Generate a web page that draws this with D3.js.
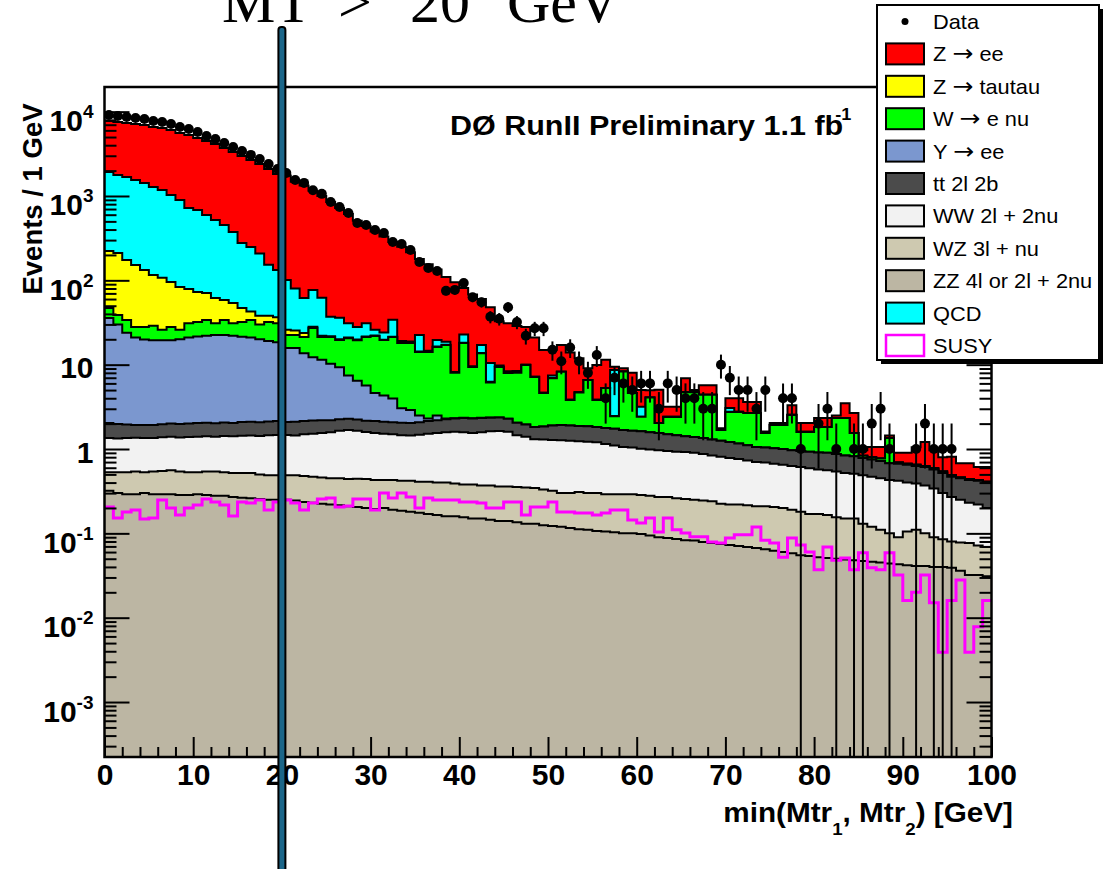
<!DOCTYPE html>
<html>
<head>
<meta charset="utf-8">
<script src="https://cdn.jsdelivr.net/npm/d3@7"></script>
<style>
  html, body { margin: 0; padding: 0; background: #fff; }
  svg { display: block; }
</style>
</head>
<body>
<svg id="chart" width="1110" height="869"></svg>
<script>
"use strict";

// 100 bins of 1 GeV, lower edges 0..99
const nBins = 100;

const zzVals = [0.32,0.30,0.29,0.29,0.30,0.29,0.29,0.29,0.285,0.285,
  0.29,0.285,0.28,0.28,0.27,0.265,0.26,0.255,0.25,0.25,
  0.25,0.245,0.235,0.23,0.225,0.22,0.215,0.21,0.205,0.20,
  0.195,0.20,0.19,0.185,0.18,0.175,0.17,0.165,0.16,0.16,
  0.155,0.15,0.15,0.145,0.14,0.14,0.135,0.13,0.13,0.125,
  0.122,0.12,0.116,0.112,0.11,0.107,0.105,0.103,0.10,0.10,
  0.098,0.094,0.09,0.088,0.086,0.083,0.082,0.079,0.077,0.075,
  0.073,0.071,0.069,0.067,0.065,0.062,0.06,0.058,0.055,0.054,
  0.052,0.051,0.05,0.049,0.048,0.047,0.046,0.045,0.044,0.043,
  0.042,0.041,0.041,0.04,0.04,0.039,0.036,0.032,0.032,0.031];

const wzVals = [0.21,0.23,0.24,0.25,0.23,0.25,0.26,0.27,0.255,0.245,
  0.24,0.255,0.26,0.25,0.25,0.255,0.26,0.245,0.24,0.24,
  0.24,0.245,0.245,0.24,0.235,0.23,0.235,0.23,0.24,0.24,
  0.235,0.23,0.24,0.235,0.24,0.235,0.24,0.235,0.24,0.23,
  0.225,0.23,0.22,0.225,0.22,0.22,0.22,0.22,0.215,0.205,
  0.198,0.18,0.184,0.198,0.19,0.193,0.185,0.187,0.19,0.19,
  0.187,0.186,0.18,0.182,0.174,0.172,0.168,0.166,0.163,0.15,
  0.147,0.149,0.146,0.143,0.145,0.143,0.14,0.132,0.125,0.116,
  0.118,0.114,0.105,0.101,0.102,0.083,0.074,0.065,0.056,0.047,
  0.063,0.069,0.059,0.05,0.045,0.041,0.042,0.045,0.04,0.038];

const wwVals = [0.82,0.80,0.82,0.82,0.82,0.81,0.83,0.84,0.83,0.86,
  0.87,0.88,0.86,0.90,0.90,0.92,0.93,0.93,0.97,0.98,
  0.98,0.96,1.02,1.05,1.09,1.13,1.20,1.24,1.20,1.15,
  1.12,1.09,1.07,1.04,1.03,1.07,1.11,1.15,1.18,1.21,
  1.20,1.17,1.21,1.25,1.28,1.24,1.10,1.05,0.96,0.97,
  0.96,0.97,0.95,0.93,0.92,0.90,0.86,0.81,0.77,0.75,
  0.72,0.71,0.70,0.68,0.67,0.665,0.65,0.625,0.60,0.585,
  0.56,0.54,0.515,0.49,0.48,0.465,0.45,0.44,0.43,0.42,
  0.40,0.395,0.385,0.37,0.36,0.36,0.35,0.34,0.33,0.33,
  0.295,0.28,0.27,0.25,0.215,0.19,0.172,0.153,0.148,0.131];

const ttVals = [0.68,0.65,0.60,0.57,0.58,0.58,0.59,0.60,0.61,0.61,
  0.63,0.63,0.62,0.63,0.62,0.65,0.65,0.65,0.66,0.68,
  0.62,0.65,0.65,0.66,0.65,0.61,0.60,0.60,0.60,0.58,
  0.60,0.58,0.58,0.59,0.58,0.60,0.63,0.65,0.67,0.70,
  0.75,0.75,0.75,0.73,0.72,0.68,0.60,0.55,0.52,0.55,
  0.62,0.66,0.65,0.64,0.64,0.62,0.63,0.64,0.62,0.61,
  0.62,0.59,0.58,0.55,0.53,0.50,0.49,0.48,0.46,0.44,
  0.43,0.40,0.38,0.36,0.35,0.35,0.35,0.34,0.34,0.34,
  0.34,0.34,0.33,0.32,0.31,0.29,0.28,0.27,0.25,0.25,
  0.25,0.24,0.24,0.23,0.22,0.20,0.20,0.20,0.20,0.20];

const yeeVals = [33.7,28,22,19,18,17.6,17.5,17.5,18,19,
  19.5,20,20.5,20.4,20,19.4,18.9,17.9,16.9,16.3,
  13.7,13.7,11.5,10.1,9.2,8.1,7.1,5.15,4.2,3.5,
  2.45,2.2,1.9,1.0,0.87,0.42,0.15,0.3,0.05,0.02,
  0.02,0.01,0.01,0.01,0.005,0,0,0,0,0,
  0,0,0,0,0,0,0,0,0,0,
  0,0,0,0,0,0,0,0,0,0,
  0,0,0,0,0,0,0,0,0,0,
  0,0,0,0,0,0,0,0,0,0,
  0,0,0,0,0,0,0,0,0,0];

const wenuVals = [11.3,8.7,9.8,7,8,9.5,6.5,8.5,6,10,
  10.5,11.8,8.5,11.3,9,10.5,12.8,10,13,12.5,
  6.7,6.7,7.6,14.9,9.9,11,10.2,13.2,13.1,15.6,
  17.3,15.3,17.3,15,15.2,11.6,11.8,13.75,14.8,5.7,
  15.75,7.1,11.3,3.8,7.0,5.7,5.95,7.95,5.3,2.75,
  5.0,6.3,1.9,2.8,4.7,2.0,3.5,0.7,6.6,2.95,
  0.78,2.5,0.48,0.9,0.94,3.28,3.31,3.05,3.1,0.43,
  1.54,1.59,1.56,1.61,0.51,0.91,0.93,1.56,0.64,0.66,
  0.91,0.92,1.46,1.49,0.73,0.05,0.05,0.05,0.67,0.02,
  0.02,0.02,0.02,0.02,0.02,0.02,0.01,0.01,0.01,0.01];

const ztautauVals = [176,172,140,124,105,87,81,67.6,57.4,47.9,
  40.7,37,30.7,24.6,22.9,15,9,8,6,5.5,
  3.5,3.0,2.5,1.0,0.8,0.5,0.4,0.4,0.3,0.3,
  0.3,0.2,0.2,0.2,0.2,0.2,0.2,0.2,0.15,0.15,
  0.15,0.1,0.1,0.1,0.1,0.08,0.08,0.06,0.06,0.05,
  0.05,0.04,0.04,0.03,0.03,0.02,0.02,0.02,0.02,0.02,
  0.01,0.01,0.01,0.01,0.01,0.01,0.01,0.01,0.01,0.01,
  0.01,0.01,0.01,0.01,0.01,0.01,0.01,0.01,0.01,0.01,
  0,0,0,0,0,0,0,0,0,0,
  0,0,0,0,0,0,0,0,0,0];

const qcdVals = [1705,1565,1506,1396,1293,1163,1071,931,814,642,
  610,524,457,395,320,230,206,170,115,96,
  75,54.5,38,48.8,40,15.2,16,10,8.1,9.4,
  3.8,4.2,12.5,0.8,0.5,8.2,0.3,3.2,1.5,0,
  4.5,0,3.4,4.2,0.3,0.3,0.3,0,0,0,
  0.5,0,0,0,0,0,0,6.2,0,0,
  0.75,0,0,0,0,0,0,0,0,0,
  0.3,0,0,0,0,0,0,0,0,0,
  0,0,0,0,0,0,0,0,0,0,
  0,0,0,0,0,0,0,0,0,0];

const zeeVals = [5822,5774,5660,5592,5524,5301,5222,5043,4693,4569,
  4187,3895,3621,3257,2956,2703,2422,2189,1938,1687,
  1649,1400,1268,1073,938,813,684,579,482,409,
  354,306,251,231,196,157,140,115,91,87,
  58.4,58.5,43,37.6,23,22.6,20.3,18,13.8,10.3,
  7.6,8.8,10.1,7.2,2.5,6.1,6.1,0.8,0.8,3.4,
  1.85,0.9,3.0,0.75,0.75,2.2,0.3,1.3,1.3,0.07,
  0.95,1.25,0.93,0.93,0.05,0.1,0.1,0.77,0.44,0.44,
  0.51,0.51,0.17,1.17,1.12,0.14,0.26,0.29,0.1,0.21,
  0.23,0.4,0.58,0.38,0.26,0.32,0.22,0.24,0.18,0.2];

const susyVals = [0.205,0.152,0.179,0.189,0.148,0.152,0.248,0.20,0.165,0.20,
  0.217,0.255,0.235,0.217,0.161,0.235,0.229,0.248,0.189,0.235,
  0.248,0.229,0.189,0.229,0.255,0.262,0.205,0.211,0.255,0.255,
  0.189,0.301,0.262,0.301,0.27,0.20,0.262,0.248,0.248,0.248,
  0.235,0.235,0.229,0.20,0.20,0.235,0.235,0.165,0.205,0.205,
  0.235,0.179,0.179,0.174,0.174,0.165,0.174,0.189,0.189,0.144,
  0.133,0.152,0.104,0.152,0.110,0.101,0.091,0.091,0.079,0.077,
  0.088,0.096,0.096,0.119,0.083,0.077,0.052,0.088,0.073,0.060,
  0.037,0.069,0.048,0.051,0.037,0.059,0.039,0.037,0.059,0.032,
  0.016,0.020,0.032,0.015,0.0039,0.016,0.028,0.0039,0.0078,0.016];

const dataCounts = [9140,8890,8650,8420,8190,7750,7540,7140,6580,6230,
  5740,5150,4740,4250,3810,3420,3070,2750,2400,2090,
  1870,1550,1430,1170,1060,850,742,628,478,453,
  395,363,285,270,229,165,140,129,75,77,
  93,63,55,37,35,48,32,22,27,27,
  15,11,16,11,8,13,4,7,6,5,
  6,6,3,6,5,4,4,3,3,10,
  7,5,5,3,5,0,4,4,1,0,
  2,3,1,0,1,1,2,3,1,0,
  0,1,2,1,1,1,0,0,0,0];

const xTickValues = [0, 10, 20, 30, 40, 50, 60, 70, 80, 90, 100];
const yTickPowers = [-3, -2, -1, 0, 1, 2, 3, 4];

// legend rows: [text before arrow, text after arrow] (arrow only where given)
const legendLabels = [["Data"], ["Z", "ee"], ["Z", "tautau"], ["W", "e nu"], ["Y", "ee"],
  ["tt 2l 2b"], ["WW 2l + 2nu"], ["WZ 3l + nu"], ["ZZ 4l or 2l + 2nu"], ["QCD"], ["SUSY"]];

// stacking order, bottom first
const components = [
  { key: "zz", values: zzVals, color: "#bcb6a3" },
  { key: "wz", values: wzVals, color: "#cec9b0" },
  { key: "ww", values: wwVals, color: "#f2f2f2" },
  { key: "tt", values: ttVals, color: "#4b4b4b" },
  { key: "yee", values: yeeVals, color: "#7b97cf" },
  { key: "wenu", values: wenuVals, color: "#00ff00" },
  { key: "ztautau", values: ztautauVals, color: "#ffff00" },
  { key: "qcd", values: qcdVals, color: "#00ffff" },
  { key: "zee", values: zeeVals, color: "#ff0000" },
];

const legendColors = ["#ff0000", "#ffff00", "#00ff00", "#7b97cf", "#4b4b4b",
  "#f2f2f2", "#cec9b0", "#bcb6a3", "#00ffff"];

const font = "'Liberation Sans', Arial, Helvetica, sans-serif";

const plotLeft = 104.5;
const plotRight = 991.5;
const plotTop = 87;
const plotBottom = 757;
const yMin = 2.23e-4;
const yMax = 1.96e4;

const svg = d3.select("#chart");

const xScale = d3.scaleLinear().domain([0, 100]).range([plotLeft, plotRight]);
const yScale = d3.scaleLog().domain([yMin, yMax]).range([plotBottom, plotTop]);

svg.append("defs").append("clipPath").attr("id", "plotClip")
  .append("rect").attr("x", plotLeft).attr("y", plotTop)
  .attr("width", plotRight - plotLeft).attr("height", plotBottom - plotTop);

const plot = svg.append("g").attr("clip-path", "url(#plotClip)");

const drawStack = () => {
  const rows = d3.range(nBins).map((i) => {
    const row = { bin: i };
    components.forEach((c) => (row[c.key] = c.values[i]));
    return row;
  });
  const stacked = d3.stack().keys(components.map((c) => c.key))(rows);

  const area = d3.area().curve(d3.curveStepAfter)
    .x((d) => xScale(d.edge)).y0(plotBottom).y1((d) => yScale(d.v));
  const outline = d3.line().curve(d3.curveStepAfter)
    .x((d) => xScale(d.edge)).y((d) => yScale(d.v));

  // painted like ROOT: summed histogram first, then each lower sum over it
  for (let k = stacked.length - 1; k >= 0; k--) {
    const layer = stacked[k];
    const pts = layer.map((d, i) => ({ edge: i, v: d[1] }));
    pts.push({ edge: nBins, v: layer[nBins - 1][1] });
    plot.append("path").datum(pts).attr("d", area).attr("fill", components[k].color);
    plot.append("path").datum(pts).attr("d", outline)
      .attr("fill", "none").attr("stroke", "#000").attr("stroke-width", 2);
  }
};

const drawSusy = () => {
  const pts = susyVals.map((v, i) => ({ edge: i, v }));
  pts.push({ edge: nBins, v: susyVals[nBins - 1] });
  const line = d3.line().curve(d3.curveStepAfter)
    .x((d) => xScale(d.edge)).y((d) => yScale(d.v));
  plot.append("path").datum(pts).attr("d", line)
    .attr("fill", "none").attr("stroke", "#ff00ff").attr("stroke-width", 3);
};

const drawData = () => {
  const pts = dataCounts.map((n, i) => ({ c: i + 0.5, n })).filter((d) => d.n > 0);
  plot.selectAll("line.err").data(pts).enter().append("line")
    .attr("class", "err")
    .attr("x1", (d) => xScale(d.c)).attr("x2", (d) => xScale(d.c))
    .attr("y1", (d) => yScale(Math.max(d.n - Math.sqrt(d.n), yMin)))
    .attr("y2", (d) => yScale(d.n + Math.sqrt(d.n)))
    .attr("stroke", "#000").attr("stroke-width", 2);
  plot.selectAll("circle.dot").data(pts).enter().append("circle")
    .attr("class", "dot")
    .attr("cx", (d) => xScale(d.c)).attr("cy", (d) => yScale(d.n))
    .attr("r", 5).attr("fill", "#000");
};

const styleTicks = (g) => {
  g.select(".domain").remove();
  g.selectAll(".tick line").attr("stroke", "#000").attr("stroke-width", 2);
};

const drawAxes = () => {
  const yMajor = yTickPowers.map((p) => Math.pow(10, p));
  const yMinor = [];
  for (let p = -4; p <= 4; p++) {
    for (let m = 2; m <= 9; m++) {
      const v = m * Math.pow(10, p);
      if (v > yMin && v < yMax) yMinor.push(v);
    }
  }
  const xMinor = d3.range(0, 101, 2).filter((v) => v % 10 !== 0);

  // left axis with labels
  const yAxisG = svg.append("g").attr("transform", `translate(${plotLeft},0)`)
    .call(d3.axisLeft(yScale).tickValues(yMajor).tickSizeInner(-25)
      .tickSizeOuter(0).tickPadding(11).tickFormat(""));
  styleTicks(yAxisG);
  yAxisG.attr("font-size", null).attr("font-family", null);
  yAxisG.selectAll(".tick text").each(function (v) {
    const p = Math.round(Math.log10(v));
    const t = d3.select(this)
      .attr("font-family", font).attr("font-weight", "bold")
      .attr("font-size", 30).attr("fill", "#000");
    if (p === 0 || p === 1) {
      t.attr("dy", 13).text(p === 0 ? "1" : "10");
    } else {
      t.attr("dy", 19);
      t.append("tspan").text("10");
      t.append("tspan").attr("font-size", 19).attr("dy", -13).text(String(p));
    }
  });
  const yMinorG = svg.append("g").attr("transform", `translate(${plotLeft},0)`)
    .call(d3.axisLeft(yScale).tickValues(yMinor).tickSizeInner(-12)
      .tickSizeOuter(0).tickFormat(""));
  styleTicks(yMinorG);

  // right axis, ticks only
  const yRightG = svg.append("g").attr("transform", `translate(${plotRight},0)`)
    .call(d3.axisRight(yScale).tickValues(yMajor).tickSizeInner(-25)
      .tickSizeOuter(0).tickFormat(""));
  styleTicks(yRightG);
  const yRightMinorG = svg.append("g").attr("transform", `translate(${plotRight},0)`)
    .call(d3.axisRight(yScale).tickValues(yMinor).tickSizeInner(-12)
      .tickSizeOuter(0).tickFormat(""));
  styleTicks(yRightMinorG);

  // bottom axis
  const xAxisG = svg.append("g").attr("transform", `translate(0,${plotBottom})`)
    .call(d3.axisBottom(xScale).tickValues(xTickValues).tickSizeInner(-20)
      .tickSizeOuter(0).tickFormat(d3.format("d")));
  styleTicks(xAxisG);
  xAxisG.attr("font-size", null).attr("font-family", null);
  xAxisG.selectAll(".tick text")
    .attr("y", 28).attr("dy", 0)
    .attr("font-family", font).attr("font-weight", "bold")
    .attr("font-size", 30).attr("fill", "#000");
  const xMinorG = svg.append("g").attr("transform", `translate(0,${plotBottom})`)
    .call(d3.axisBottom(xScale).tickValues(xMinor).tickSizeInner(-10)
      .tickSizeOuter(0).tickFormat(""));
  styleTicks(xMinorG);

  // frame
  svg.append("rect").attr("x", plotLeft).attr("y", plotTop)
    .attr("width", plotRight - plotLeft).attr("height", plotBottom - plotTop)
    .attr("fill", "none").attr("stroke", "#000").attr("stroke-width", 2.5);
};

const drawTexts = () => {
  // x title
  const xt = svg.append("text")
    .attr("transform", "translate(1013,822) scale(1.1,1)")
    .attr("text-anchor", "end").attr("font-family", font)
    .attr("font-weight", "bold").attr("font-size", 27);
  xt.append("tspan").text("min(Mtr");
  xt.append("tspan").attr("font-size", 17).attr("dy", 13).text("1");
  xt.append("tspan").attr("dy", -13).text(", Mtr");
  xt.append("tspan").attr("font-size", 17).attr("dy", 13).text("2");
  xt.append("tspan").attr("dy", -13).text(") [GeV]");

  // y title
  svg.append("text")
    .attr("transform", "translate(42,199) rotate(-90)")
    .attr("text-anchor", "middle").attr("font-family", font)
    .attr("font-weight", "bold").attr("font-size", 27.5)
    .text("Events / 1 GeV");

  // experiment tag
  const tag = svg.append("text")
    .attr("transform", "translate(450,135) scale(1.13,1)")
    .attr("font-family", font).attr("font-weight", "bold").attr("font-size", 27);
  tag.append("tspan").text("D\u00d8 RunII Preliminary 1.1 fb");
  tag.append("tspan").attr("font-size", 16).attr("dy", -15).attr("dx", -7).text("-1");
};

const drawLegend = () => {
  const lg = svg.append("g");
  lg.append("rect").attr("x", 881).attr("y", 9).attr("width", 222).attr("height", 355)
    .attr("fill", "#000");
  lg.append("rect").attr("x", 877).attr("y", 5).attr("width", 222).attr("height", 355)
    .attr("fill", "#fff").attr("stroke", "#000").attr("stroke-width", 2);

  legendLabels.forEach((parts, i) => {
    const cy = 21.5 + 32.4 * i;
    if (i === 0) {
      lg.append("circle").attr("cx", 905).attr("cy", cy).attr("r", 3.5).attr("fill", "#000");
    } else if (parts[0] === "SUSY") {
      lg.append("rect").attr("x", 886).attr("y", cy - 10.5).attr("width", 38).attr("height", 21)
        .attr("fill", "#fff").attr("stroke", "#ff00ff").attr("stroke-width", 2.5);
    } else {
      lg.append("rect").attr("x", 886).attr("y", cy - 10.5).attr("width", 38).attr("height", 21)
        .attr("fill", legendColors[i - 1]).attr("stroke", "#000").attr("stroke-width", 2);
    }
    const t = lg.append("text")
      .attr("transform", `translate(933,${cy + 7.5}) scale(1.09,1)`)
      .attr("font-family", font).attr("font-size", 20).attr("fill", "#000");
    t.append("tspan").text(parts.length > 1 ? parts[0] + " " : parts[0]);
    if (parts.length > 1) {
      t.append("tspan").attr("font-family", "'DejaVu Sans', sans-serif")
        .attr("font-size", 23).text("\u2192");
      t.append("tspan").text(" " + parts[1]);
    }
  });
};

const drawOverlay = () => {
  // cut marker drawn over the plot
  svg.append("rect").attr("x", xScale(20) - 3.5).attr("y", 27)
    .attr("width", 7).attr("height", 860).attr("rx", 3)
    .attr("fill", "#1b6689").attr("stroke", "#000").attr("stroke-width", 2);

  const title = svg.append("text").attr("y", 22)
    .attr("font-family", "'Liberation Serif', 'Times New Roman', serif")
    .attr("font-size", 60).attr("fill", "#000");
  title.append("tspan").attr("x", 222).text("MT");
  title.append("tspan").attr("x", 338).text(">");
  title.append("tspan").attr("x", 410).text("20");
  title.append("tspan").attr("x", 507).text("GeV");
};

drawStack();
drawSusy();
drawData();
drawAxes();
drawTexts();
drawLegend();
drawOverlay();
</script>
</body>
</html>
